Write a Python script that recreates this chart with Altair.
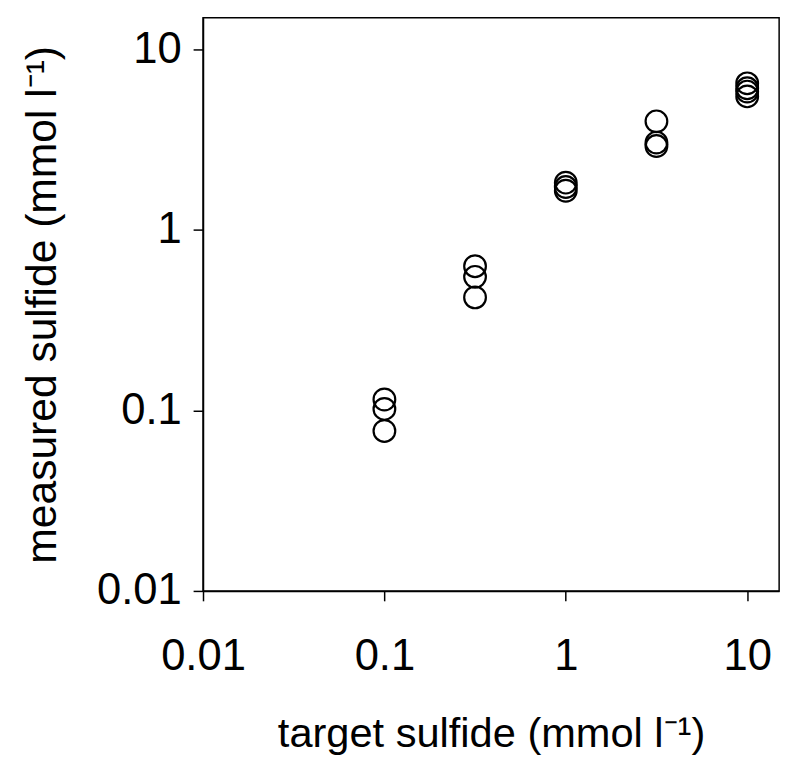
import altair as alt
import pandas as pd

target = [0.1, 0.1, 0.1,
          0.316, 0.316, 0.316,
          1.0, 1.0, 1.0,
          3.16, 3.16, 3.16,
          10.0, 10.0, 10.0, 10.0]
measured = [0.115, 0.102, 0.077,
            0.63, 0.55, 0.423,
            1.83, 1.73, 1.65,
            4.0, 3.05, 2.92,
            6.5, 6.1, 5.85, 5.5]
tick_values = [0.01, 0.1, 1, 10]

df = pd.DataFrame({"target": target, "measured": measured})

font = "Liberation Sans"

chart = alt.Chart(df).mark_point(
    shape="circle", filled=False, stroke="black", strokeWidth=2.2, size=480, opacity=1
).encode(
    x=alt.X("target:Q",
            scale=alt.Scale(type="log", domain=[0.01, 15]),
            axis=alt.Axis(values=tick_values, format=".2~f", title="target sulfide (mmol l⁻¹)",
                          grid=False, tickSize=10, labelPadding=34, titlePadding=36)),
    y=alt.Y("measured:Q",
            scale=alt.Scale(type="log", domain=[0.01, 15]),
            axis=alt.Axis(values=tick_values, format=".2~f", title="measured sulfide (mmol l⁻¹)",
                          grid=False, tickSize=10, labelPadding=12, titlePadding=32,
                          titleFontSize=43)),
).properties(
    width=582, height=579,
    autosize=alt.AutoSizeParams(type="none"),
    padding={"left": 197, "top": 6, "right": 13, "bottom": 174},
).configure_view(
    stroke="black", strokeWidth=1.5
).configure_axis(
    domainColor="black", domainWidth=1.5, tickColor="black", tickWidth=1.5,
    labelFont=font, labelFontSize=44, labelColor="black",
    titleFont=font, titleFontSize=42, titleFontWeight="normal", titleColor="black",
    labelFlush=False, labelOverlap=False,
)

chart.save("out.html", embed_options={"renderer": "svg", "actions": False})
